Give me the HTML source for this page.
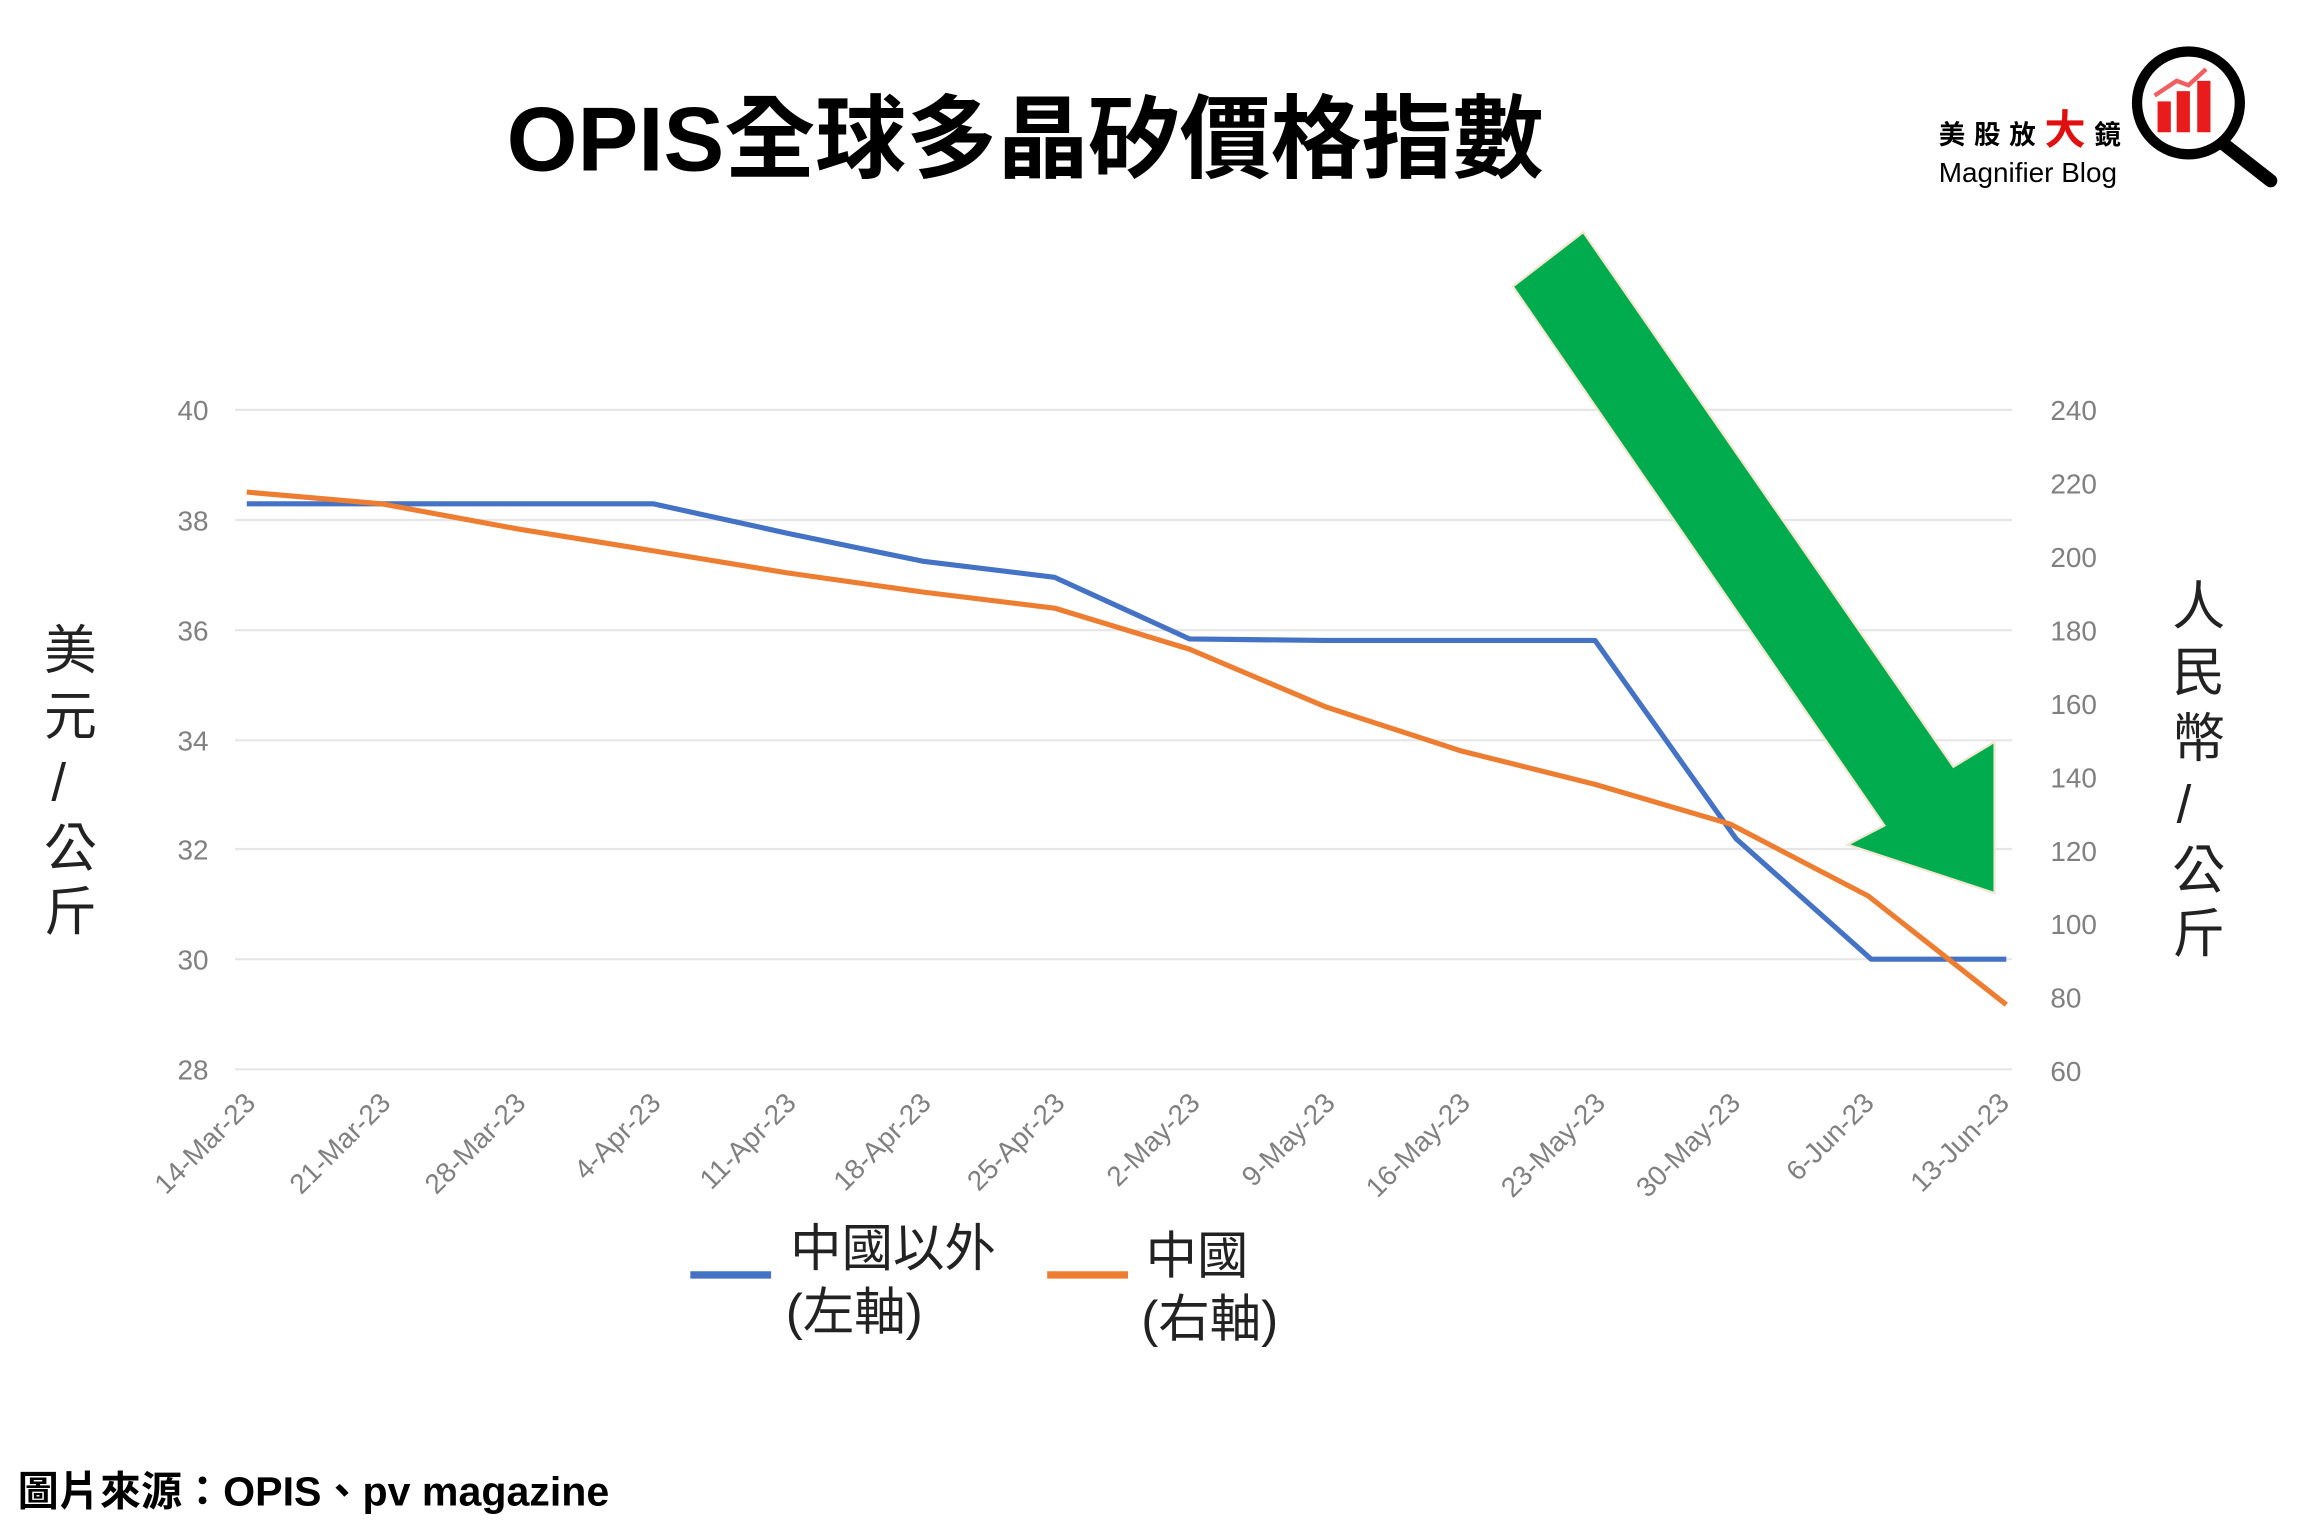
<!DOCTYPE html>
<html><head><meta charset="utf-8"><style>html,body{margin:0;padding:0;background:#fff;width:2303px;height:1535px;overflow:hidden}</style></head>
<body>
<svg width="2303" height="1535" viewBox="0 0 1568 1045" xmlns="http://www.w3.org/2000/svg" font-family="Liberation Sans, Noto Sans CJK TC, sans-serif">
<rect width="1568" height="1045" fill="#fff"/>
<text x="698" y="116" font-size="62" font-weight="bold" text-anchor="middle" font-family="Liberation Sans, Noto Sans CJK TC, sans-serif">OPIS全球多晶矽價格指數</text>
<!-- logo -->
<text x="1320" y="98" font-size="18" font-weight="bold" letter-spacing="6">美股放<tspan fill="#e01010" font-size="28">大</tspan>鏡</text>
<text x="1320" y="124" font-size="19">Magnifier Blog</text>
<circle cx="1490" cy="70" r="35" fill="#fff" stroke="#000" stroke-width="7"/>
<line x1="1514" y1="98" x2="1546" y2="123" stroke="#000" stroke-width="9" stroke-linecap="round"/>
<rect x="1469" y="69" width="9" height="21" fill="#e81c1c"/><rect x="1482" y="62" width="9" height="28" fill="#e81c1c"/><rect x="1496" y="55" width="9" height="35" fill="#e81c1c"/>
<path d="M1467 65 L1482 55 L1490 58 L1502 47" stroke="#f06060" stroke-width="3" fill="none"/>
<!-- grid -->
<g stroke="#e6e6e6" stroke-width="1.5">
<line x1="160" y1="279" x2="1370" y2="279"/><line x1="160" y1="354" x2="1370" y2="354"/><line x1="160" y1="429" x2="1370" y2="429"/><line x1="160" y1="504" x2="1370" y2="504"/><line x1="160" y1="578" x2="1370" y2="578"/><line x1="160" y1="653" x2="1370" y2="653"/><line x1="160" y1="728" x2="1370" y2="728"/>
</g>
<g fill="#808080" font-size="19" text-anchor="end">
<text x="142" y="286">40</text><text x="142" y="361">38</text><text x="142" y="436">36</text><text x="142" y="511">34</text><text x="142" y="585">32</text><text x="142" y="660">30</text><text x="142" y="735">28</text>
</g>
<g fill="#808080" font-size="19">
<text x="1396" y="286">240</text><text x="1396" y="336">220</text><text x="1396" y="386">200</text><text x="1396" y="436">180</text><text x="1396" y="486">160</text><text x="1396" y="536">140</text><text x="1396" y="586">120</text><text x="1396" y="636">100</text><text x="1396" y="686">80</text><text x="1396" y="736">60</text>
</g>
<g fill="#808080" font-size="19" text-anchor="end">
<text transform="translate(175,752) rotate(-45)">14-Mar-23</text>
<text transform="translate(267,752) rotate(-45)">21-Mar-23</text>
<text transform="translate(359,752) rotate(-45)">28-Mar-23</text>
<text transform="translate(451,752) rotate(-45)">4-Apr-23</text>
<text transform="translate(543,752) rotate(-45)">11-Apr-23</text>
<text transform="translate(635,752) rotate(-45)">18-Apr-23</text>
<text transform="translate(726,752) rotate(-45)">25-Apr-23</text>
<text transform="translate(818,752) rotate(-45)">2-May-23</text>
<text transform="translate(910,752) rotate(-45)">9-May-23</text>
<text transform="translate(1002,752) rotate(-45)">16-May-23</text>
<text transform="translate(1094,752) rotate(-45)">23-May-23</text>
<text transform="translate(1186,752) rotate(-45)">30-May-23</text>
<text transform="translate(1277,752) rotate(-45)">6-Jun-23</text>
<text transform="translate(1369,752) rotate(-45)">13-Jun-23</text>
</g>
<polyline fill="none" stroke="#4472c4" stroke-width="3.5" stroke-linejoin="round" points="168,343 260,343 352,343 445,343 536,363 628,382 718,393 810,435 902,436 994,436 1086,436 1182,571 1274,653 1366,653"/>
<polyline fill="none" stroke="#ed7d31" stroke-width="3.5" stroke-linejoin="round" points="168,335 260,343 352,360 445,375 536,390 628,403 718,414 810,442 902,481 994,511 1086,534 1178,561 1272,610 1366,684"/>
<!-- axis titles -->
<g font-size="36" fill="#222" text-anchor="middle">
<text x="48" y="455">美</text><text x="48" y="500">元</text><text x="40" y="545">/</text><text x="48" y="590">公</text><text x="48" y="633">斤</text>
<text x="1497" y="425">人</text><text x="1497" y="470">民</text><text x="1497" y="515">幣</text><text x="1487" y="560">/</text><text x="1497" y="605">公</text><text x="1497" y="648">斤</text>
</g>
<!-- legend -->
<line x1="470" y1="868" x2="525" y2="868" stroke="#4472c4" stroke-width="5"/>
<line x1="713" y1="868" x2="768" y2="868" stroke="#ed7d31" stroke-width="5"/>
<g font-size="35" fill="#222">
<text x="538" y="862">中國以外</text><text x="535" y="905">(左軸)</text>
<text x="780" y="867">中國</text><text x="777" y="910">(右軸)</text>
</g>
<!-- arrow -->
<polygon points="1030,195 1078,158 1330,522 1358,505 1358,608 1258,575 1283,562" fill="#00ac4e" stroke="#f4e6d0" stroke-width="1.5"/>
<text x="12" y="1025" font-size="28" font-weight="bold">圖片來源：OPIS、pv magazine</text>
</svg>
</body></html>
